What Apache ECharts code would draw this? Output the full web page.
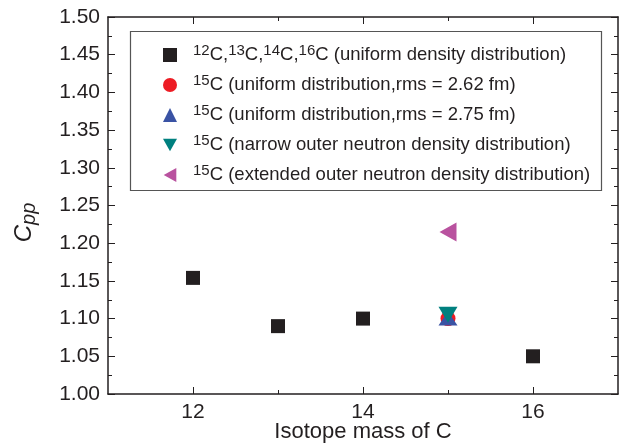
<!DOCTYPE html>
<html>
<head>
<meta charset="utf-8">
<script src="https://cdn.jsdelivr.net/npm/echarts@6/dist/echarts.min.js"></script>
<style>
  html, body { margin: 0; padding: 0; background: #fff; }
  #main { width: 631px; height: 448px; }
</style>
</head>
<body>
<div id="main"></div>
<script>
// isotope masses and C_pp values
var massUniform = [12, 13, 14, 16];
var cppUniform = [1.154, 1.090, 1.100, 1.050];
var mass15 = [15];
var cppRms262 = [1.100];
var cppRms275 = [1.100];
var cppNarrow = [1.105];
var cppExtended = [1.215];

var xMajorTicks = [12, 14, 16];
var xMinorTicks = [13, 15];

var seriesNames = ['uniform', 'rms262', 'rms275', 'narrow', 'extended'];
var legendLabels = {
  uniform: '{sp| }{s|12}{m|C,}{s|13}{m|C,}{s|14}{m|C,}{s|16}{m|C (uniform density distribution)}',
  rms262: '{sp| }{s|15}{m|C (uniform distribution,rms = 2.62 fm)}',
  rms275: '{sp| }{s|15}{m|C (uniform distribution,rms = 2.75 fm)}',
  narrow: '{sp| }{s|15}{m|C (narrow outer neutron density distribution)}',
  extended: '{sp| }{s|15}{m|C (extended outer neutron density distribution)}'
};
var legendIcons = {
  uniform: 'rect',
  rms262: 'circle',
  rms275: 'triangle',
  narrow: 'path://M0,0 L10,0 L5,9 Z',
  extended: 'path://M9,0 L9,10 L0,5 Z'
};

var ink = '#231f20';
var font = 'Liberation Sans, Arial, sans-serif';

function pairs(xs, ys) {
  return ys.map(function (y, i) { return [xs[i], y]; });
}

var myChart = echarts.init(document.getElementById('main'));

var frameX = function (pos, ticks, len, showLine, showLabel) {
  return {
    type: 'value', position: pos, min: 11, max: 17, interval: 1,
    axisLine: { show: showLine, onZero: false, lineStyle: { color: ink, width: 1.5 } },
    axisTick: { show: true, inside: true, length: len, customValues: ticks, lineStyle: { color: ink, width: 1 } },
    axisLabel: { show: showLabel, customValues: ticks, margin: 8, color: ink, fontSize: 21, fontFamily: font },
    splitLine: { show: false }
  };
};

var frameY = function (pos, showLabel) {
  return {
    type: 'value', position: pos, min: 1.0, max: 1.5, interval: 0.05,
    axisLine: { show: true, onZero: false, lineStyle: { color: ink, width: 1.5 } },
    axisTick: { show: true, inside: true, length: 7, lineStyle: { color: ink, width: 1 } },
    minorTick: { show: true, splitNumber: 2, length: 4, lineStyle: { color: ink, width: 1 } },
    axisLabel: {
      show: showLabel, margin: 8, color: ink, fontSize: 21, fontFamily: font,
      formatter: function (v) { return v.toFixed(2); }
    },
    splitLine: { show: false }
  };
};

var xMain = frameX('bottom', xMajorTicks, 7, true, true);
xMain.name = 'Isotope mass of C';
xMain.nameLocation = 'middle';
xMain.nameGap = 27;
xMain.nameMoveOverlap = false;
xMain.nameTextStyle = { color: ink, fontSize: 22, fontFamily: font };

var yMain = frameY('left', true);
yMain.name = '{c|C}{p|pp}';
yMain.nameLocation = 'middle';
yMain.nameGap = 69;
yMain.nameRotate = 90;
yMain.nameMoveOverlap = false;
yMain.nameTextStyle = {
  padding: [0, 34, 0, 0],
  rich: {
    c: { fontSize: 24, fontStyle: 'italic', fontFamily: font, color: ink },
    p: { fontSize: 20, fontStyle: 'italic', fontFamily: font, color: ink, padding: [10, 0, 0, 0] }
  }
};

myChart.setOption({
  animation: false,
  grid: { left: 108, right: 13, top: 17, bottom: 54, outerBoundsMode: 'none' },
  xAxis: [
    xMain,
    frameX('bottom', xMinorTicks, 4, false, false),
    frameX('top', xMajorTicks, 7, true, false),
    frameX('top', xMinorTicks, 4, false, false)
  ],
  yAxis: [yMain, frameY('right', false)],
  graphic: [{
    type: 'rect', left: 128, top: 29, z: 0,
    shape: { width: 471, height: 159 },
    style: { fill: 'none', stroke: '#555', lineWidth: 1.2 }
  }],
  legend: {
    orient: 'vertical', left: 163, top: 43, padding: 0,
    itemGap: 6, itemWidth: 14, itemHeight: 14,
    data: seriesNames.map(function (n) { return { name: n, icon: legendIcons[n] }; }),
    formatter: function (name) { return legendLabels[name]; },
    textStyle: {
      color: ink, fontFamily: font,
      rich: {
        sp: { width: 11, lineHeight: 20 },
        s: { fontSize: 15, fontFamily: font, color: ink, padding: [0, 0, 9, 0], lineHeight: 14 },
        m: { fontSize: 18.5, fontFamily: font, color: ink, lineHeight: 20 }
      }
    }
  },
  series: [
    { name: 'uniform', type: 'scatter', symbol: 'rect', symbolSize: 14,
      itemStyle: { color: ink, opacity: 1 }, data: pairs(massUniform, cppUniform) },
    { name: 'rms262', type: 'scatter', symbol: 'circle', symbolSize: 15,
      itemStyle: { color: '#ed1c24', opacity: 1 }, data: pairs(mass15, cppRms262) },
    { name: 'rms275', type: 'scatter', symbol: 'triangle', symbolSize: [19, 14],
      itemStyle: { color: '#3a53a4', opacity: 1 }, data: pairs(mass15, cppRms275) },
    { name: 'narrow', type: 'scatter', symbol: 'triangle', symbolSize: [19, 16], symbolRotate: 180,
      itemStyle: { color: '#00807f', opacity: 1 }, data: pairs(mass15, cppNarrow) },
    { name: 'extended', type: 'scatter', symbol: 'triangle', symbolSize: [19, 17], symbolRotate: 90,
      itemStyle: { color: '#b9529f', opacity: 1 }, data: pairs(mass15, cppExtended) }
  ]
});
</script>
</body>
</html>
